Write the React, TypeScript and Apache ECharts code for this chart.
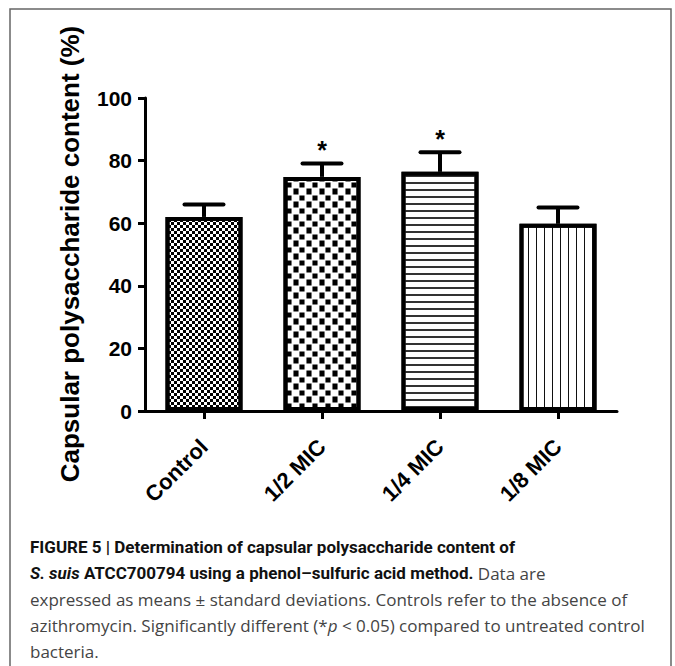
import React, { useEffect, useRef } from "react";
import * as echarts from "echarts";

const categories = ["Control", "1/2 MIC", "1/4 MIC", "1/8 MIC"];
const means = [62.0, 74.8, 76.4, 59.8];
const sds = [4.0, 4.3, 6.3, 5.2];
const significant = [false, true, true, false];
const yTicks = [0, 20, 40, 60, 80, 100];
const yTitle = "Capsular polysaccharide content (%)";

const decals = [
  { symbol: "rect", symbolSize: 1, color: "#000", backgroundColor: "#fff", dashArrayX: [[3, 3], [0, 3, 3, 0]], dashArrayY: [3, 0] },
  { symbol: "rect", symbolSize: 0.85, color: "#000", backgroundColor: "#fff", dashArrayX: [[6, 7], [0, 7, 6, 0]], dashArrayY: [6, 0, 7, 0] },
  { symbol: "rect", symbolSize: 1, color: "#333", backgroundColor: "#fff", dashArrayX: [1, 0], dashArrayY: [2, 5] },
  { symbol: "rect", symbolSize: 1, color: "#111", backgroundColor: "#fff", dashArrayX: [1, 7], dashArrayY: [1, 0] },
];

export default function App() {
  const ref = useRef<HTMLDivElement>(null);
  useEffect(() => {
    if (!ref.current) return;
    const chart = echarts.init(ref.current, null, { renderer: "svg" });
    const font = "'Liberation Sans', Arial, sans-serif";
    const capReg = "'Open Sans', 'Liberation Sans', sans-serif";
    const capBold = "Roboto, 'Liberation Sans', sans-serif";
    const capSize = 17;
    const capLH = 26;
    chart.setOption({
      animation: false,
      aria: { enabled: true, decal: { show: true } },
      grid: { left: 145, right: 58, top: 98, bottom: 255, containLabel: false },
      xAxis: {
        type: "category",
        data: categories,
        boundaryGap: true,
        axisLine: { lineStyle: { color: "#000", width: 3 } },
        axisTick: { show: true, alignWithLabel: true, length: 8, lineStyle: { color: "#000", width: 3 } },
        axisLabel: { rotate: 45, margin: 32, color: "#000", fontFamily: font, fontWeight: "bold", fontSize: 22 },
      },
      yAxis: {
        type: "value",
        min: yTicks[0],
        max: yTicks[yTicks.length - 1],
        interval: 20,
        axisLine: { show: true, lineStyle: { color: "#000", width: 3 } },
        axisTick: { show: true, length: 7, lineStyle: { color: "#000", width: 3 } },
        axisLabel: { margin: 13, color: "#000", fontFamily: font, fontWeight: "bold", fontSize: 21 },
        splitLine: { show: false },
      },
      graphic: [
        {
          type: "rect",
          shape: { x: 10, y: 9, width: 661, height: 720 },
          style: { fill: "none", stroke: "#666", lineWidth: 1.5 },
          silent: true,
        },
        {
          type: "text",
          x: 70,
          y: 254,
          rotation: Math.PI / 2,
          style: {
            text: yTitle,
            fontFamily: font,
            fontWeight: "bold",
            fontSize: 26,
            fill: "#000",
            align: "center",
            verticalAlign: "middle",
          },
        },
        {
          type: "text",
          x: 30,
          y: 534,
          style: {
            text:
              "{b|FIGURE 5 | Determination of capsular polysaccharide content of}\n" +
              "{bi|S. suis}{b| ATCC700794 using a phenol–sulfuric acid method.}{n| Data are}\n" +
              "{n|expressed as means ± standard deviations. Controls refer to the absence of}\n" +
              "{n|azithromycin. Significantly different (*}{i|p}{n| < 0.05) compared to untreated control}\n" +
              "{n|bacteria.}",
            fontFamily: capReg,
            fontSize: capSize,
            lineHeight: capLH,
            rich: {
              b: { fontFamily: capBold, fontSize: capSize, fontWeight: "bold", fill: "#111", lineHeight: capLH },
              bi: { fontFamily: capBold, fontSize: capSize, fontWeight: "bold", fontStyle: "italic", fill: "#111", lineHeight: capLH },
              n: { fontFamily: capReg, fontSize: capSize, fill: "#444", lineHeight: capLH },
              i: { fontFamily: capReg, fontSize: capSize, fontStyle: "italic", fill: "#444", lineHeight: capLH },
            },
          },
        },
      ],
      series: [
        {
          type: "bar",
          barWidth: 77,
          data: means.map((v, i) => ({
            value: v,
            itemStyle: { color: "#fff", borderColor: "#000", borderWidth: 4, decal: decals[i] },
          })),
          z: 2,
        },
        {
          type: "custom",
          z: 3,
          data: means.map((m, i) => [i, m, sds[i], significant[i] ? 1 : 0]),
          renderItem: (params: any, api: any) => {
            const idx = api.value(0);
            const m = api.value(1);
            const sd = api.value(2);
            const sig = api.value(3);
            const base = api.coord([idx, m]);
            const top = api.coord([idx, m + sd]);
            const children: any[] = [
              { type: "line", shape: { x1: top[0], y1: base[1], x2: top[0], y2: top[1] }, style: { stroke: "#000", lineWidth: 4 } },
              { type: "line", shape: { x1: top[0] - 19.5, y1: top[1], x2: top[0] + 19.5, y2: top[1] }, style: { stroke: "#000", lineWidth: 4, lineCap: "round" } },
            ];
            if (sig) {
              children.push({
                type: "text",
                x: top[0],
                y: top[1] - 13,
                style: { text: "*", fontFamily: font, fontWeight: "bold", fontSize: 25, fill: "#000", align: "center", verticalAlign: "middle" },
              });
            }
            return { type: "group", children };
          },
        },
      ],
    });
    return () => chart.dispose();
  }, []);
  return <div ref={ref} style={{ width: 675, height: 666, position: "absolute", left: 0, top: 0 }} />;
}
